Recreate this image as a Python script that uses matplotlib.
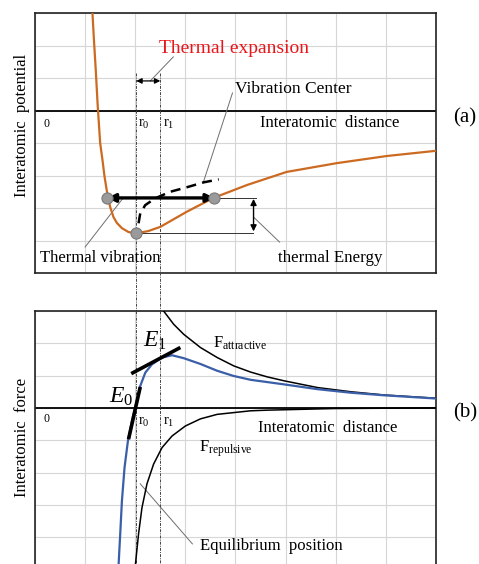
import matplotlib
matplotlib.use('Agg')
import matplotlib.pyplot as plt
import numpy as np

plt.rcParams['font.family'] = ['Liberation Serif', 'DejaVu Serif']
plt.rcParams['mathtext.fontset'] = 'custom'
plt.rcParams['mathtext.rm'] = 'Liberation Serif'
plt.rcParams['mathtext.it'] = 'Liberation Serif:italic'

# ---------------- data (grid units) ----------------
# (a) interatomic potential
pot_x = [1.146, 1.176, 1.212, 1.25, 1.30, 1.346, 1.386, 1.42, 1.454, 1.50, 1.566,
         1.634, 1.734, 1.866, 2.014, 2.26, 2.5, 3.034, 3.56, 4.234, 5.02, 6.02, 7.02, 8.0]
pot_y = [3.00, 2.17, 1.25, 0.17, -1.0, -1.52, -2.02, -2.35, -2.66, -2.97, -3.28,
         -3.46, -3.62, -3.74, -3.78, -3.71, -3.58, -3.11, -2.69, -2.29, -1.89, -1.62, -1.40, -1.24]
center_x = [2.066, 2.10, 2.20, 2.40, 2.70, 3.034, 3.366, 3.666]
center_y = [-3.47, -3.16, -2.91, -2.70, -2.50, -2.36, -2.21, -2.12]
dot_x = [1.44, 3.58, 2.02]
dot_y = [-2.69, -2.69, -3.77]
r0 = 2.02
r1 = 2.50

# (b) interatomic force
net_x = [1.666, 1.70, 1.734, 1.786, 1.854, 1.934, 2.014, 2.10, 2.20, 2.334, 2.534, 2.734,
         2.966, 3.30, 3.634, 3.96, 4.30, 4.96, 5.634, 6.30, 6.96, 8.0]
net_y = [-4.9, -3.91, -2.88, -1.85, -1.02, -0.40, 0.11, 0.68, 1.09, 1.35, 1.56, 1.63,
         1.54, 1.36, 1.15, 0.99, 0.87, 0.73, 0.58, 0.47, 0.39, 0.29]
attr_x = [2.566, 2.766, 2.966, 3.30, 3.634, 3.966, 4.30, 4.634, 4.966, 5.634, 6.30, 6.966, 8.0]
attr_y = [3.0, 2.59, 2.28, 1.87, 1.56, 1.30, 1.11, 0.96, 0.84, 0.63, 0.50, 0.40, 0.30]
rep_x = [2.0, 2.066, 2.134, 2.234, 2.366, 2.534, 2.734, 3.0, 3.30, 3.634, 4.30, 4.634, 5.96, 8.0]
rep_y = [-4.9, -3.90, -3.09, -2.35, -1.74, -1.23, -0.87, -0.56, -0.34, -0.20, -0.09, -0.07, -0.02, 0.0]
e0_x = [1.866, 2.10]
e0_y = [-0.97, 0.65]
e1_x = [1.92, 2.90]
e1_y = [1.06, 1.87]

# ---------------- figure ----------------
W, H = 479, 564
fig = plt.figure(figsize=(W / 100, H / 100), dpi=100)
axA = fig.add_axes([35 / W, (H - 273) / H, 401 / W, 260 / H])
axB = fig.add_axes([35 / W, (H - 311 - 258.4) / H, 401 / W, 258.4 / H])

for ax in (axA, axB):
    ax.set_xlim(0, 8)
    ax.set_ylim(-5, 3)
    ax.set_xticks(np.arange(0, 9))
    ax.set_yticks(np.arange(-5, 4))
    ax.grid(True, color='#d6d6d6', lw=0.8)
    ax.set_axisbelow(True)
    ax.tick_params(length=0, labelbottom=False, labelleft=False)
    ax.axhline(0, color='black', lw=1.3, zorder=2)
    for s in ax.spines.values():
        s.set_linewidth(1.2)
        s.set_color('#222222')

GRAY = '#6e6e6e'
DOT_LS = (0, (3, 1.2, 1, 1.2))

# ---- panel (a) ----
axA.plot([r0, r0], [1.15, -6.2], color='#444444', lw=0.7, ls=DOT_LS, clip_on=False, zorder=3)
axA.plot([r1, r1], [1.15, -6.2], color='#444444', lw=0.7, ls=DOT_LS, clip_on=False, zorder=3)
axA.plot(pot_x, pot_y, color='#cc6a22', lw=1.6, zorder=4)
axA.plot(center_x, center_y, color='black', lw=1.8, ls=(0, (4, 2.5)), zorder=4)
axA.annotate('', xy=(dot_x[0], dot_y[0]), xytext=(dot_x[1], dot_y[1]),
             arrowprops=dict(arrowstyle='<|-|>', lw=2.4, color='black', mutation_scale=12,
                             shrinkA=0, shrinkB=0), zorder=5)
axA.plot(dot_x, dot_y, 'o', ms=8, mfc='#9a9a9a', mec='#7a7a7a', mew=0.8, zorder=6)
# thermal energy
axA.plot([dot_x[1], 4.40], [dot_y[1], dot_y[1]], color='#333333', lw=0.7, zorder=3)
axA.plot([dot_x[2], 4.34], [dot_y[2], dot_y[2]], color='#333333', lw=0.7, zorder=3)
axA.annotate('', xy=(4.36, -2.72), xytext=(4.36, -3.72),
             arrowprops=dict(arrowstyle='<|-|>', lw=1.0, color='black', mutation_scale=9,
                             shrinkA=0, shrinkB=0))
# thermal expansion arrow
axA.annotate('', xy=(r0, 0.91), xytext=(r1, 0.91),
             arrowprops=dict(arrowstyle='<|-|>', lw=0.9, color='black', mutation_scale=8,
                             shrinkA=0, shrinkB=0))
# leader lines
axA.plot([2.76, 2.30], [1.65, 0.91], color=GRAY, lw=0.7)
axA.plot([3.94, 3.36], [0.54, -2.20], color=GRAY, lw=0.7)
axA.plot([1.0, 1.76], [-4.2, -2.69], color=GRAY, lw=0.7)
axA.plot([4.36, 4.88], [-3.28, -4.05], color=GRAY, lw=0.7)

axA.text(3.97, 1.92, 'Thermal expansion', color='#e8161b', fontsize=14, ha='center', va='center')
axA.text(4.0, 0.66, 'Vibration Center', fontsize=12.5, ha='left', va='center')
axA.text(4.48, -0.38, 'Interatomic  distance', fontsize=12, ha='left', va='center')
axA.text(0.1, -4.54, 'Thermal vibration', fontsize=12, ha='left', va='center')
axA.text(4.84, -4.54, 'thermal Energy', fontsize=12.2, ha='left', va='center')
axA.text(0.16, -0.42, '0', fontsize=8.5, ha='left', va='center')
axA.text(2.05, -0.42, r'r$_0$', fontsize=10.5, ha='left', va='center')
axA.text(2.56, -0.42, r'r$_1$', fontsize=10.5, ha='left', va='center')

# ---- panel (b) ----
axB.plot([r0, r0], [3, -5], color='#444444', lw=0.7, ls=DOT_LS, zorder=3)
axB.plot([r1, r1], [3, -5], color='#444444', lw=0.7, ls=DOT_LS, zorder=3)
axB.plot(attr_x, attr_y, color='black', lw=1.1, zorder=4)
axB.plot(rep_x, rep_y, color='black', lw=1.1, zorder=4)
axB.plot(net_x, net_y, color='#3a5fa8', lw=1.6, zorder=5)
axB.plot(e0_x, e0_y, color='black', lw=2.6, zorder=6, solid_capstyle='butt')
axB.plot(e1_x, e1_y, color='black', lw=2.6, zorder=6, solid_capstyle='butt')
axB.plot([2.1, 3.14], [-2.35, -4.21], color=GRAY, lw=0.7)

axB.text(2.15, 2.07, r'$E_1$', fontsize=17, ha='left', va='center')
axB.text(1.48, 0.33, r'$E_0$', fontsize=17, ha='left', va='center')
axB.text(3.56, 2.0, r'F$_{\mathrm{attractive}}$', fontsize=12, ha='left', va='center')
axB.text(3.28, -1.27, r'F$_{\mathrm{repulsive}}$', fontsize=12, ha='left', va='center')
axB.text(0.16, -0.34, '0', fontsize=8.5, ha='left', va='center')
axB.text(2.05, -0.46, r'r$_0$', fontsize=10.5, ha='left', va='center')
axB.text(2.56, -0.46, r'r$_1$', fontsize=10.5, ha='left', va='center')
axB.text(4.44, -0.62, 'Interatomic  distance', fontsize=12, ha='left', va='center')
axB.text(3.3, -4.27, 'Equilibrium  position', fontsize=12, ha='left', va='center')

# panel labels and y labels
fig.text(465 / W, 1 - 118 / H, '(a)', fontsize=15, ha='center', va='center')
fig.text(465 / W, 1 - 413 / H, '(b)', fontsize=15, ha='center', va='center')
fig.text(22 / W, 1 - 125 / H, 'Interatomic  potential', fontsize=12, rotation=90, ha='center', va='center')
fig.text(22 / W, 1 - 437 / H, 'Interatomic  force', fontsize=12, rotation=90, ha='center', va='center')

fig.savefig('out.png', dpi=100)
